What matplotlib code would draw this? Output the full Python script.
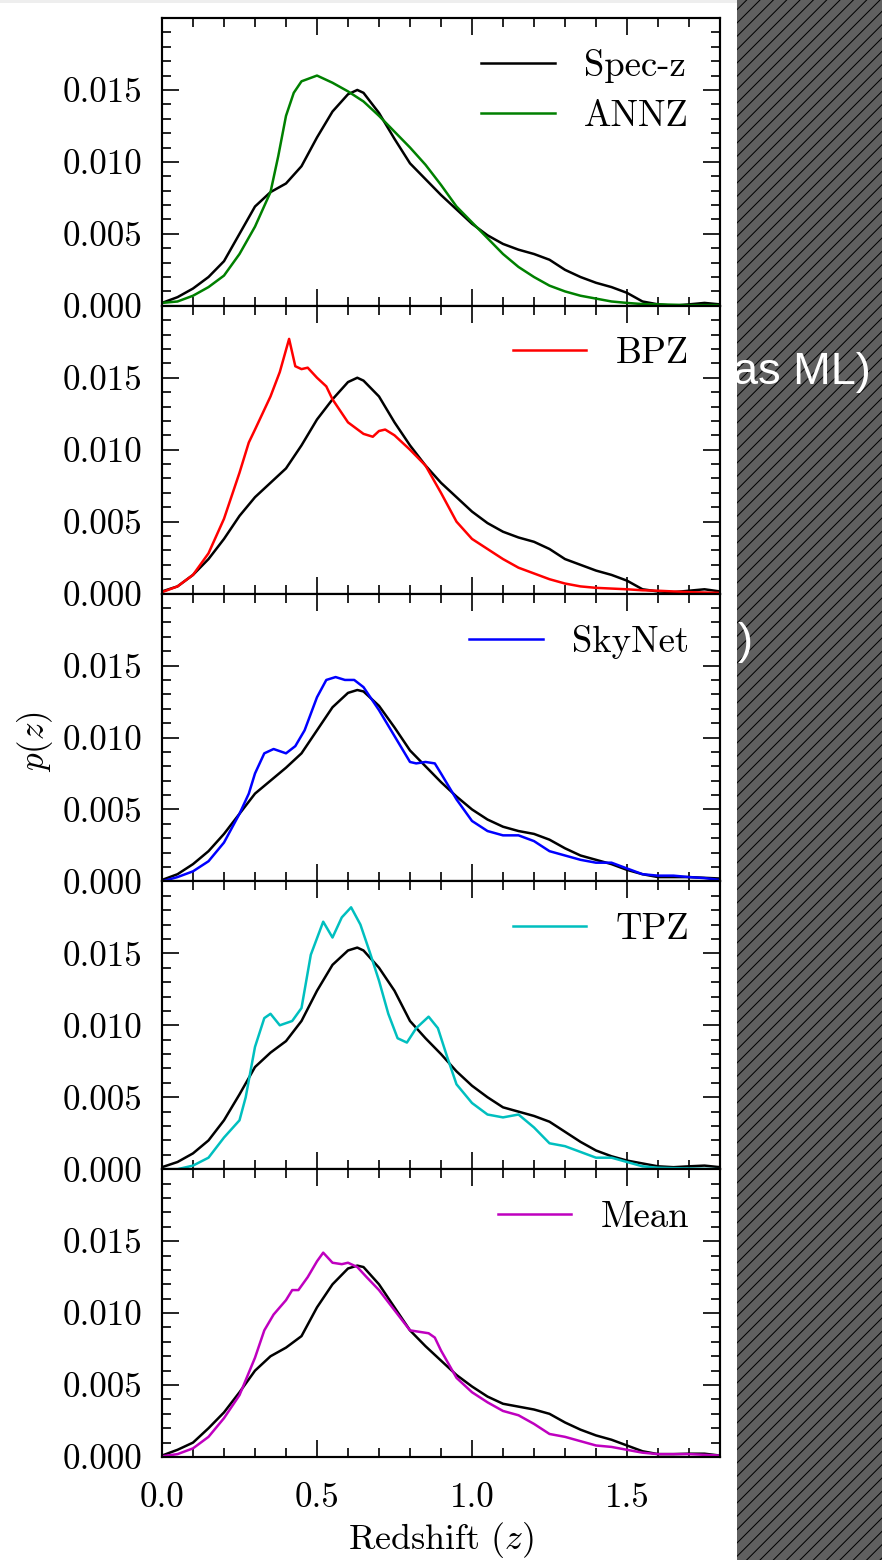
import matplotlib
matplotlib.use('Agg')
import matplotlib.pyplot as plt
from matplotlib.patches import Rectangle
from matplotlib.ticker import MultipleLocator, FormatStrFormatter

plt.rcParams.update({'font.family': 'cmr10', 'mathtext.fontset': 'cm',
                     'axes.unicode_minus': False, 'font.size': 21,
                     'hatch.linewidth': 0.6})

# ---- data: redshift grid + p(z) per panel ----
z_std = [0.0, 0.05, 0.1, 0.15, 0.2, 0.25, 0.3, 0.35, 0.4, 0.45, 0.5, 0.55, 0.6, 0.63, 0.65,
         0.7, 0.75, 0.8, 0.85, 0.9, 0.95, 1.0, 1.05, 1.1, 1.15, 1.2, 1.25, 1.3, 1.35, 1.4,
         1.45, 1.5, 1.55, 1.6, 1.65, 1.7, 1.75, 1.8]

spec_annz = [0.0002, 0.0006, 0.0012, 0.0020, 0.0031, 0.0050, 0.0069, 0.0079, 0.0085, 0.0097,
             0.0117, 0.0135, 0.0147, 0.0150, 0.0148, 0.0134, 0.0116, 0.0099, 0.0088, 0.0077,
             0.0067, 0.0057, 0.0049, 0.0043, 0.0039, 0.0036, 0.0032, 0.0025, 0.0020, 0.0016,
             0.0013, 0.0009, 0.0003, 0.0001, 0.0000, 0.0001, 0.0002, 0.0001]
spec_bpz = [0.00015, 0.0005, 0.0013, 0.0024, 0.0038, 0.0054, 0.0067, 0.0077, 0.0087, 0.0103,
            0.0121, 0.0135, 0.0147, 0.0150, 0.0148, 0.0137, 0.0119, 0.0103, 0.0089, 0.0077,
            0.0067, 0.0057, 0.0049, 0.0043, 0.0039, 0.0036, 0.0031, 0.0024, 0.0020, 0.0016,
            0.0013, 0.0009, 0.0003, 0.00015, 0.0001, 0.0002, 0.0003, 0.00015]
spec_skynet = [0.0001, 0.0005, 0.0012, 0.0021, 0.0033, 0.0047, 0.0061, 0.0070, 0.0079, 0.0089,
               0.0105, 0.0121, 0.0131, 0.0133, 0.0132, 0.0122, 0.0107, 0.0091, 0.0080, 0.0069,
               0.0059, 0.0050, 0.0043, 0.0038, 0.0035, 0.0033, 0.0029, 0.0023, 0.0018, 0.0015,
               0.0012, 0.0008, 0.0005, 0.0003, 0.0003, 0.0003, 0.00025, 0.0002]
spec_tpz = [0.00014, 0.0005, 0.0011, 0.0020, 0.0034, 0.0052, 0.0071, 0.0081, 0.0089, 0.0103,
            0.0124, 0.0142, 0.0152, 0.0154, 0.0152, 0.0140, 0.0124, 0.0103, 0.0091, 0.0080,
            0.0068, 0.0058, 0.0050, 0.0043, 0.0040, 0.0037, 0.0033, 0.0026, 0.0019, 0.0013,
            0.0009, 0.0006, 0.0004, 0.0002, 0.00014, 0.0002, 0.00025, 0.00014]
spec_mean = [0.0001, 0.0005, 0.0010, 0.0020, 0.0031, 0.0045, 0.0060, 0.0070, 0.0076, 0.0084,
             0.0104, 0.0120, 0.0131, 0.0133, 0.0132, 0.0120, 0.0104, 0.0088, 0.0077, 0.0067,
             0.0057, 0.0049, 0.0042, 0.0037, 0.0035, 0.0033, 0.0030, 0.0024, 0.0019, 0.0015,
             0.0012, 0.0008, 0.0004, 0.0002, 0.0002, 0.00023, 0.00023, 0.0001]

z_annz = [0.0, 0.05, 0.1, 0.15, 0.2, 0.25, 0.3, 0.35, 0.375, 0.4, 0.425, 0.45, 0.5, 0.55, 0.6,
          0.65, 0.7, 0.75, 0.8, 0.85, 0.9, 0.95, 1.0, 1.05, 1.1, 1.15, 1.2, 1.25, 1.3, 1.35,
          1.4, 1.45, 1.5, 1.55, 1.6, 1.7, 1.8]
p_annz = [0.0002, 0.0003, 0.0007, 0.0013, 0.0021, 0.0036, 0.0055, 0.0079, 0.0104, 0.0132,
          0.0148, 0.0156, 0.0160, 0.0155, 0.0149, 0.0142, 0.0132, 0.0121, 0.0110, 0.0098,
          0.0084, 0.0069, 0.0058, 0.0047, 0.0036, 0.0027, 0.0020, 0.0014, 0.0010, 0.0007,
          0.0005, 0.0003, 0.0002, 0.00012, 0.0001, 0.00005, 0.00005]

z_bpz = [0.0, 0.05, 0.1, 0.15, 0.2, 0.25, 0.28, 0.3, 0.35, 0.38, 0.41, 0.43, 0.45, 0.47, 0.5,
         0.53, 0.55, 0.6, 0.65, 0.68, 0.7, 0.72, 0.75, 0.8, 0.85, 0.9, 0.95, 1.0, 1.05, 1.1,
         1.15, 1.2, 1.25, 1.3, 1.35, 1.4, 1.45, 1.5, 1.55, 1.6, 1.7, 1.8]
p_bpz = [0.0001, 0.0005, 0.0013, 0.0028, 0.0052, 0.0084, 0.0105, 0.0114, 0.0137, 0.0154,
         0.0177, 0.0158, 0.0156, 0.0157, 0.0150, 0.0144, 0.0135, 0.0119, 0.0111, 0.0109,
         0.0113, 0.0114, 0.0110, 0.0100, 0.0089, 0.0070, 0.0050, 0.0038, 0.0031, 0.0024,
         0.0018, 0.0014, 0.0010, 0.0007, 0.0005, 0.0004, 0.00035, 0.0003, 0.00023, 0.0002,
         0.0001, 0.00005]

z_skynet = [0.0, 0.05, 0.1, 0.15, 0.2, 0.25, 0.28, 0.3, 0.33, 0.36, 0.4, 0.43, 0.46, 0.5,
            0.53, 0.56, 0.59, 0.62, 0.65, 0.7, 0.75, 0.8, 0.82, 0.85, 0.88, 0.9, 0.95, 1.0,
            1.05, 1.1, 1.15, 1.2, 1.25, 1.3, 1.35, 1.4, 1.45, 1.5, 1.55, 1.6, 1.65, 1.7,
            1.75, 1.8]
p_skynet = [0.0, 0.0003, 0.0007, 0.0014, 0.0027, 0.0047, 0.0061, 0.0075, 0.0089, 0.0092,
            0.0089, 0.0094, 0.0105, 0.0128, 0.0140, 0.0142, 0.0140, 0.0140, 0.0135, 0.0119,
            0.0101, 0.0083, 0.0082, 0.0083, 0.0082, 0.0075, 0.0057, 0.0042, 0.0035, 0.0032,
            0.0032, 0.0028, 0.0021, 0.0018, 0.0015, 0.0013, 0.0013, 0.0009, 0.0005, 0.0004,
            0.0004, 0.0003, 0.00023, 0.0001]

z_tpz = [0.0, 0.05, 0.1, 0.15, 0.2, 0.25, 0.27, 0.3, 0.33, 0.35, 0.38, 0.42, 0.45, 0.48,
         0.52, 0.55, 0.58, 0.61, 0.64, 0.67, 0.7, 0.73, 0.76, 0.79, 0.82, 0.86, 0.89, 0.92,
         0.95, 1.0, 1.05, 1.1, 1.15, 1.2, 1.25, 1.3, 1.35, 1.4, 1.45, 1.5, 1.55, 1.6, 1.7,
         1.8]
p_tpz = [0.0, 0.0, 0.00025, 0.0008, 0.0022, 0.0034, 0.0050, 0.0085, 0.0105, 0.0108, 0.0100,
         0.0103, 0.0112, 0.0149, 0.0172, 0.0161, 0.0175, 0.0182, 0.0170, 0.0151, 0.0131,
         0.0108, 0.0091, 0.0088, 0.0098, 0.0106, 0.0098, 0.0078, 0.0059, 0.0046, 0.0038,
         0.0036, 0.0038, 0.0029, 0.0018, 0.0016, 0.0012, 0.0008, 0.0008, 0.0005, 0.0002,
         0.0001, 0.00005, 0.0]

z_mean = [0.0, 0.05, 0.1, 0.15, 0.2, 0.25, 0.3, 0.33, 0.36, 0.4, 0.42, 0.44, 0.47, 0.5, 0.52,
          0.55, 0.58, 0.6, 0.63, 0.66, 0.7, 0.75, 0.8, 0.83, 0.86, 0.88, 0.9, 0.95, 1.0, 1.05,
          1.1, 1.15, 1.2, 1.25, 1.3, 1.35, 1.4, 1.45, 1.5, 1.55, 1.6, 1.7, 1.8]
p_mean = [0.00005, 0.0002, 0.0006, 0.0014, 0.0027, 0.0043, 0.0069, 0.0088, 0.0099, 0.0109,
          0.0116, 0.0116, 0.0125, 0.0136, 0.0142, 0.0135, 0.0134, 0.0135, 0.0132, 0.0125,
          0.0116, 0.0102, 0.0088, 0.0087, 0.0086, 0.0083, 0.0074, 0.0055, 0.0045, 0.0038,
          0.0032, 0.0029, 0.0023, 0.0016, 0.0014, 0.0011, 0.0008, 0.0007, 0.0005, 0.0003,
          0.0002, 0.0002, 0.0001]

panels = [
    (spec_annz, z_annz, p_annz, 'ANNZ', 'g'),
    (spec_bpz, z_bpz, p_bpz, 'BPZ', 'r'),
    (spec_skynet, z_skynet, p_skynet, 'SkyNet', 'b'),
    (spec_tpz, z_tpz, p_tpz, 'TPZ', 'c'),
    (spec_mean, z_mean, p_mean, 'Mean', 'm'),
]

fig = plt.figure(figsize=(7.35, 13.0), dpi=120)
axes = fig.subplots(5, 1, sharex=True)
fig.subplots_adjust(left=162/882, right=720/882, top=1-18/1560, bottom=1-1457/1560, hspace=0)

for i, (ax, (spec, zm, pm, name, col)) in enumerate(zip(axes, panels)):
    ax.plot(z_std, spec, color='k', lw=1.5, label='Spec-z' if i == 0 else '_nolegend_')
    ax.plot(zm, pm, color=col, lw=1.5, label=name)
    ax.set_xlim(0, 1.8); ax.set_ylim(0, 0.02)
    ax.set_yticks([0.0, 0.005, 0.010, 0.015])
    ax.yaxis.set_minor_locator(MultipleLocator(0.001))
    ax.xaxis.set_major_locator(MultipleLocator(0.5))
    ax.xaxis.set_minor_locator(MultipleLocator(0.1))
    ax.yaxis.set_major_formatter(FormatStrFormatter('%.3f'))
    ax.xaxis.set_major_formatter(FormatStrFormatter('%.1f'))
    ax.tick_params(which='both', direction='in', top=True, right=True, width=1.0)
    ax.tick_params(which='major', length=10)
    ax.tick_params(which='minor', length=5.4)
    ax.tick_params(axis='y', pad=12, labelsize=21)
    ax.tick_params(axis='x', pad=15, labelsize=21)
    for s in ax.spines.values():
        s.set_linewidth(1.3)
    ax.legend(loc='upper right', frameon=False, handlelength=2.0, fontsize=22,
              labelspacing=0.45, borderaxespad=0.45)

axes[-1].set_xlabel('Redshift $(z)$', fontsize=21.5, labelpad=4)
fig.text(35/882, 1-742/1560, '$p(z)$', rotation=90, ha='center', va='center', fontsize=21)

# slide overlay: light strip on top, hatched panel on the right with clipped white text
fig.patches.append(Rectangle((0, 1-3/1560), 737/882, 3/1560, transform=fig.transFigure,
                             facecolor='#eeeeee', edgecolor='none', zorder=1))
panel = Rectangle((737/882, 0), 1-737/882, 1, transform=fig.transFigure,
                  facecolor='#606060', edgecolor='black', linewidth=0,
                  hatch='///', zorder=1)
fig.patches.append(panel)
t1 = fig.text(733/882, 1-384/1560, 'as ML)', color='white', fontsize=27,
              family=['Liberation Sans', 'DejaVu Sans'], ha='left', va='baseline', zorder=5)
t2 = fig.text(738/882, 1-654/1560, ')', color='white', fontsize=27,
              family=['Liberation Sans', 'DejaVu Sans'], ha='left', va='baseline', zorder=5)
for t in (t1, t2):
    t.set_clip_path(panel)

fig.savefig('out.png', dpi=120)
